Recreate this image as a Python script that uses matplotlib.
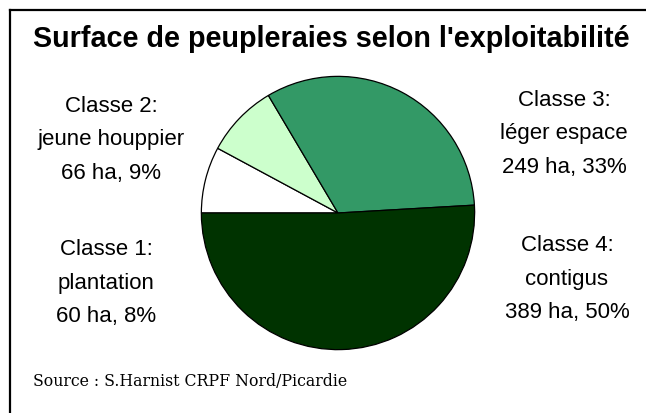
import matplotlib
matplotlib.use('Agg')
import matplotlib.pyplot as plt
from matplotlib.lines import Line2D

# data
classes = ['Classe 1:\nplantation', 'Classe 2:\njeune houppier',
           'Classe 3:\nléger espace', 'Classe 4:\ncontigus']
surfaces = [60, 66, 249, 389]   # ha
percents = [8, 9, 33, 50]
colors = ['#ffffff', '#ccffcc', '#339966', '#003300']

W, H = 646, 414
fig = plt.figure(figsize=(W / 100, H / 100), dpi=100)
fig.patch.set_facecolor('white')

# pie centre and radius in pixels
cx, cy, r = 338, 214, 138
ax = fig.add_axes([(cx - r) / W, (H - cy - r) / H, 2 * r / W, 2 * r / H])
ax.pie(surfaces, colors=colors, startangle=180, counterclock=False,
       wedgeprops=dict(edgecolor='black', linewidth=0.9))
ax.set_xlim(-1.01, 1.01)
ax.set_ylim(-1.01, 1.01)
ax.set_aspect('equal')
ax.axis('off')

# frame (only top and left edges are visible)
fig.add_artist(Line2D([10 / W, 1], [1 - 11 / H, 1 - 11 / H], color='black', lw=1.6))
fig.add_artist(Line2D([10 / W, 10 / W], [0, 1 - 11 / H], color='black', lw=1.6))

fig.text(331 / W, 1 - 39 / H, "Surface de peupleraies selon l'exploitabilité",
         ha='center', va='center', fontsize=20.7, fontweight='bold',
         family='Liberation Sans')

# label positions in pixels (centre x, centre y of the block)
label_pos = [(106, 283), (111, 140), (564, 134), (567, 279)]
for name, s, p, (x, y) in zip(classes, surfaces, percents, label_pos):
    fig.text(x / W, 1 - y / H, f'{name}\n{s} ha, {p}%', ha='center', va='center',
             fontsize=16, family='Liberation Sans', linespacing=1.8)

fig.text(33 / W, 1 - 382 / H, 'Source : S.Harnist CRPF Nord/Picardie',
         ha='left', va='center', fontsize=11.3, family='DejaVu Serif')

fig.savefig('out.png', dpi=100)
